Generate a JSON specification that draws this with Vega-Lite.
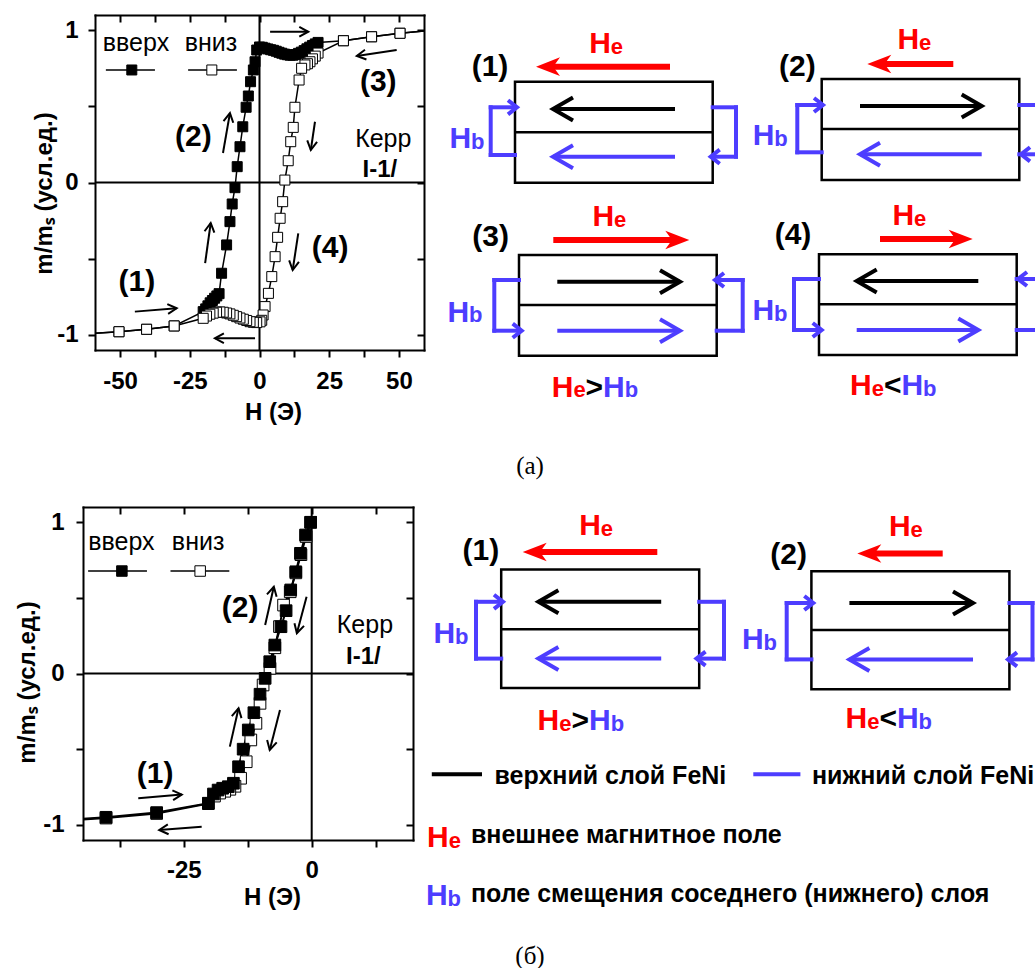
{
"$schema":"https://vega.github.io/schema/vega-lite/v6.json",
"width":1035,"height":968,"autosize":{"type":"none"},"padding":0,
"config":{"view":{"stroke":null},"font":"Liberation Sans",
 "axis":{"grid":false,"domainColor":"black","domainWidth":2,"domainCap":"square","tickColor":"black","tickWidth":2,"tickSize":7,"labelColor":"black","labelFont":"Liberation Sans","labelFontSize":24,"labelFontWeight":"bold","titleColor":"black","titleFont":"Liberation Sans","titleFontSize":24,"titleFontWeight":"bold","labelFlush":false,"labelOverlap":false}},
"datasets":{
 "A":[
  {"H":-59,"m":-0.99,"b":"up"},{"H":-50.4,"m":-0.98,"b":"up"},{"H":-40.5,"m":-0.964,"b":"up"},{"H":-30.6,"m":-0.942,"b":"up"},{"H":-20.2,"m":-0.848,"b":"up"},{"H":-19.3,"m":-0.83,"b":"up"},{"H":-18.5,"m":-0.81,"b":"up"},{"H":-17.7,"m":-0.79,"b":"up"},{"H":-16.9,"m":-0.775,"b":"up"},{"H":-16.1,"m":-0.76,"b":"up"},{"H":-15.3,"m":-0.745,"b":"up"},{"H":-14.5,"m":-0.73,"b":"up"},{"H":-13.6,"m":-0.596,"b":"up"},{"H":-11.8,"m":-0.41,"b":"up"},{"H":-10.6,"m":-0.257,"b":"up"},{"H":-9.8,"m":-0.141,"b":"up"},{"H":-8.8,"m":-0.034,"b":"up"},{"H":-8.0,"m":0.104,"b":"up"},{"H":-7.0,"m":0.235,"b":"up"},{"H":-6.0,"m":0.366,"b":"up"},{"H":-4.8,"m":0.494,"b":"up"},{"H":-4.0,"m":0.568,"b":"up"},{"H":-3.2,"m":0.662,"b":"up"},{"H":-2.2,"m":0.739,"b":"up"},{"H":-1.6,"m":0.793,"b":"up"},{"H":-1.0,"m":0.87,"b":"up"},{"H":0,"m":0.89,"b":"up"},{"H":1,"m":0.888,"b":"up"},{"H":2,"m":0.882,"b":"up"},{"H":3,"m":0.877,"b":"up"},{"H":4,"m":0.872,"b":"up"},{"H":5,"m":0.868,"b":"up"},{"H":6,"m":0.862,"b":"up"},{"H":7,"m":0.855,"b":"up"},{"H":8,"m":0.849,"b":"up"},{"H":9,"m":0.843,"b":"up"},{"H":10,"m":0.839,"b":"up"},{"H":11,"m":0.836,"b":"up"},{"H":12,"m":0.836,"b":"up"},{"H":13,"m":0.84,"b":"up"},{"H":14,"m":0.848,"b":"up"},{"H":15,"m":0.856,"b":"up"},{"H":16,"m":0.866,"b":"up"},{"H":17,"m":0.878,"b":"up"},{"H":18,"m":0.889,"b":"up"},{"H":19,"m":0.9,"b":"up"},{"H":20,"m":0.91,"b":"up"},{"H":21,"m":0.92,"b":"up"},{"H":30.1,"m":0.931,"b":"up"},{"H":40.2,"m":0.957,"b":"up"},{"H":50.4,"m":0.98,"b":"up"},{"H":59,"m":0.995,"b":"up"},
  {"H":59,"m":0.995,"b":"down"},{"H":50.4,"m":0.98,"b":"down"},{"H":40.2,"m":0.957,"b":"down"},{"H":30.1,"m":0.931,"b":"down"},{"H":21,"m":0.85,"b":"down"},{"H":20,"m":0.83,"b":"down"},{"H":19,"m":0.812,"b":"down"},{"H":18.1,"m":0.793,"b":"down"},{"H":17.2,"m":0.78,"b":"down"},{"H":16.3,"m":0.772,"b":"down"},{"H":15.1,"m":0.75,"b":"down"},{"H":14.2,"m":0.673,"b":"down"},{"H":12.7,"m":0.494,"b":"down"},{"H":12.1,"m":0.362,"b":"down"},{"H":11.2,"m":0.268,"b":"down"},{"H":10.3,"m":0.143,"b":"down"},{"H":9.1,"m":0.016,"b":"down"},{"H":8.3,"m":-0.126,"b":"down"},{"H":7.4,"m":-0.235,"b":"down"},{"H":6.5,"m":-0.36,"b":"down"},{"H":5.6,"m":-0.487,"b":"down"},{"H":4.4,"m":-0.618,"b":"down"},{"H":3.2,"m":-0.728,"b":"down"},{"H":2.0,"m":-0.815,"b":"down"},{"H":1.3,"m":-0.87,"b":"down"},{"H":0.8,"m":-0.905,"b":"down"},{"H":0.2,"m":-0.915,"b":"down"},{"H":-1.0,"m":-0.92,"b":"down"},{"H":-2.2,"m":-0.918,"b":"down"},{"H":-3.4,"m":-0.914,"b":"down"},{"H":-4.6,"m":-0.906,"b":"down"},{"H":-5.8,"m":-0.898,"b":"down"},{"H":-7.0,"m":-0.89,"b":"down"},{"H":-8.2,"m":-0.881,"b":"down"},{"H":-9.4,"m":-0.872,"b":"down"},{"H":-10.6,"m":-0.863,"b":"down"},{"H":-11.8,"m":-0.857,"b":"down"},{"H":-13.0,"m":-0.852,"b":"down"},{"H":-14.2,"m":-0.85,"b":"down"},{"H":-15.4,"m":-0.852,"b":"down"},{"H":-16.6,"m":-0.858,"b":"down"},{"H":-17.8,"m":-0.865,"b":"down"},{"H":-19.0,"m":-0.877,"b":"down"},{"H":-20.2,"m":-0.892,"b":"down"},{"H":-30.6,"m":-0.942,"b":"down"},{"H":-40.5,"m":-0.964,"b":"down"},{"H":-50.4,"m":-0.98,"b":"down"},{"H":-59,"m":-0.99,"b":"down"}],
 "B":[
  {"H":-0.2,"m":0.999,"b":"down"},{"H":-1.1,"m":0.905,"b":"down"},{"H":-2.1,"m":0.785,"b":"down"},{"H":-3.1,"m":0.665,"b":"down"},{"H":-4.2,"m":0.54,"b":"down"},{"H":-5.5,"m":0.452,"b":"down"},{"H":-6.3,"m":0.31,"b":"down"},{"H":-7.2,"m":0.17,"b":"down"},{"H":-8.15,"m":0.034,"b":"down"},{"H":-9.5,"m":-0.076,"b":"down"},{"H":-10.1,"m":-0.197,"b":"down"},{"H":-10.9,"m":-0.329,"b":"down"},{"H":-11.9,"m":-0.439,"b":"down"},{"H":-12.8,"m":-0.583,"b":"down"},{"H":-13.9,"m":-0.692,"b":"down"},{"H":-15.0,"m":-0.745,"b":"down"},{"H":-16.0,"m":-0.765,"b":"down"},{"H":-17.0,"m":-0.778,"b":"down"},{"H":-18.0,"m":-0.79,"b":"down"},{"H":-19.0,"m":-0.81,"b":"down"},{"H":-20.2,"m":-0.86,"b":"down"},{"H":-30.3,"m":-0.925,"b":"down"},{"H":-40.2,"m":-0.955,"b":"down"},{"H":-44.7,"m":-0.965,"b":"down"},
  {"H":-44.7,"m":-0.96,"b":"up"},{"H":-40.2,"m":-0.95,"b":"up"},{"H":-30.3,"m":-0.919,"b":"up"},{"H":-20.2,"m":-0.857,"b":"up"},{"H":-19.2,"m":-0.796,"b":"up"},{"H":-18.3,"m":-0.77,"b":"up"},{"H":-17.4,"m":-0.758,"b":"up"},{"H":-16.3,"m":-0.748,"b":"up"},{"H":-15.3,"m":-0.725,"b":"up"},{"H":-14.3,"m":-0.616,"b":"up"},{"H":-13.4,"m":-0.5,"b":"up"},{"H":-12.4,"m":-0.373,"b":"up"},{"H":-11.3,"m":-0.259,"b":"up"},{"H":-10.1,"m":-0.137,"b":"up"},{"H":-9.1,"m":-0.032,"b":"up"},{"H":-8.2,"m":0.078,"b":"up"},{"H":-7.2,"m":0.188,"b":"up"},{"H":-6.0,"m":0.309,"b":"up"},{"H":-5.0,"m":0.415,"b":"up"},{"H":-4.1,"m":0.552,"b":"up"},{"H":-3.1,"m":0.672,"b":"up"},{"H":-2.2,"m":0.794,"b":"up"},{"H":-1.2,"m":0.915,"b":"up"},{"H":-0.2,"m":0.999,"b":"up"}],
 "zeroA":[{"H":0,"m":-1.1,"H2":0,"m2":1.1},{"H":-59,"m":0,"H2":59,"m2":0}],
 "zeroB":[{"H":0,"m":-1.1,"H2":0,"m2":1.1},{"H":-44.7,"m":0,"H2":19.8,"m2":0}],
 "labA":[{"H":-44.0,"m":-0.651,"t":"(1)"},{"H":-23.7,"m":0.30,"t":"(2)"},{"H":42.6,"m":0.662,"t":"(3)"},{"H":25.3,"m":-0.432,"t":"(4)"}],
 "txtA":[{"H":44.4,"m":0.285,"t":"Керр"},{"H":-44.3,"m":0.918,"t":"вверх"},{"H":-17.4,"m":0.918,"t":"вниз"}],
 "boldA":[{"H":43.2,"m":0.085,"t":"I-1/"}],
 "arrA":[{"H":-29.7,"m":-0.826,"H2":-44.7,"m2":-0.848,"a":-4.7},{"H":-16.0,"m":-1.023,"H2":-1.6,"m2":-1.023,"a":180},{"H":-10.6,"m":0.456,"H2":-13.1,"m2":0.194,"a":-80},{"H":-17.5,"m":-0.266,"H2":-19.5,"m2":-0.529,"a":-82},{"H":17.5,"m":0.99,"H2":3.8,"m2":0.99,"a":0},{"H":34.9,"m":0.831,"H2":49.2,"m2":0.87,"a":171.5},{"H":18.4,"m":0.213,"H2":19.9,"m2":0.399,"a":98.6},{"H":11.9,"m":-0.575,"H2":13.9,"m2":-0.334,"a":98.7}],
 "legLinesA":[{"H":-55.1,"H2":-37.5,"m":0.739},{"H":-25.6,"H2":-8.1,"m":0.739}],
 "legSqA":[{"H":-45.8,"m":0.739,"b":"up"},{"H":-17.1,"m":0.739,"b":"down"}],
 "labB":[{"H":-30.6,"m":-0.664,"t":"(1)"},{"H":-14.0,"m":0.433,"t":"(2)"}],
 "txtB":[{"H":10.4,"m":0.32,"t":"Керр"},{"H":-37.2,"m":0.871,"t":"вверх"},{"H":-22.2,"m":0.871,"t":"вниз"}],
 "boldB":[{"H":10.1,"m":0.111,"t":"I-1/"}],
 "arrB":[{"H":-7.4,"m":0.573,"H2":-9.1,"m2":0.32,"a":-76.8},{"H":-2.9,"m":0.266,"H2":-1.0,"m2":0.507,"a":105.3},{"H":-14.3,"m":-0.23,"H2":-16.0,"m2":-0.483,"a":-77.8},{"H":-8.2,"m":-0.505,"H2":-6.2,"m2":-0.241,"a":104},{"H":-25.4,"m":-0.80,"H2":-33.9,"m2":-0.824,"a":-4.3},{"H":-29.8,"m":-1.034,"H2":-21.5,"m2":-1.012,"a":175.5}],
 "legLinesB":[{"H":-43.7,"H2":-32.2,"m":0.677},{"H":-27.6,"H2":-16.1,"m":0.677}],
 "legSqB":[{"H":-37.1,"m":0.677,"b":"up"},{"H":-21.8,"m":0.677,"b":"down"}],
 "boxes":[{"x":515,"y":81.7,"x2":712.7,"y2":182.7},{"x":821.7,"y":79,"x2":1019.3,"y2":180},{"x":519,"y":255,"x2":716.7,"y2":355.7},{"x":819,"y":254.3,"x2":1016.7,"y2":355},{"x":501.2,"y":569.6,"x2":699.2,"y2":688},{"x":811.4,"y":571.2,"x2":1009.4,"y2":689.2}],
 "dividers":[{"x":515,"x2":712.7,"y":132.3},{"x":821.7,"x2":1019.3,"y":129},{"x":519,"x2":716.7,"y":305},{"x":819,"x2":1016.7,"y":304.3},{"x":501.2,"x2":699.2,"y":629.2},{"x":811.4,"x2":1009.4,"y":630}],
 "magArrows":[
  {"x":553,"y":109,"x2":675,"y2":109,"a":180,"kind":"upper"},{"x":553,"y":156.7,"x2":675,"y2":156.7,"a":180,"kind":"lower"},
  {"x":981.7,"y":106,"x2":860,"y2":106,"a":0,"kind":"upper"},{"x":860,"y":154.3,"x2":981.7,"y2":154.3,"a":180,"kind":"lower"},
  {"x":680,"y":281.7,"x2":557.3,"y2":281.7,"a":0,"kind":"upper"},{"x":680,"y":330.7,"x2":557.3,"y2":330.7,"a":0,"kind":"lower"},
  {"x":856.7,"y":281,"x2":978.3,"y2":281,"a":180,"kind":"upper"},{"x":978.3,"y":330,"x2":856.7,"y2":330,"a":0,"kind":"lower"},
  {"x":538.4,"y":601.8,"x2":661.2,"y2":601.8,"a":180,"kind":"upper"},{"x":538.4,"y":658.6,"x2":661.2,"y2":658.6,"a":180,"kind":"lower"},
  {"x":973,"y":603,"x2":849.4,"y2":603,"a":0,"kind":"upper"},{"x":849.4,"y":659.4,"x2":973,"y2":659.4,"a":180,"kind":"lower"}],
 "brackets":[
  {"x":515,"y":155,"x2":490.7,"y2":155},{"x":490.7,"y":155,"x2":490.7,"y2":107.3},{"x":490.7,"y":107.3,"x2":515,"y2":107.3},
  {"x":712.7,"y":107.3,"x2":736,"y2":107.3},{"x":736,"y":107.3,"x2":736,"y2":156.7},{"x":736,"y":156.7,"x2":712.7,"y2":156.7},
  {"x":821.7,"y":152.3,"x2":797.3,"y2":152.3},{"x":797.3,"y":152.3,"x2":797.3,"y2":105},{"x":797.3,"y":105,"x2":821.7,"y2":105},
  {"x":1019.3,"y":105,"x2":1042,"y2":105},{"x":1042,"y":105,"x2":1042,"y2":154.3},{"x":1042,"y":154.3,"x2":1019.3,"y2":154.3},
  {"x":519,"y":280,"x2":494.3,"y2":280},{"x":494.3,"y":280,"x2":494.3,"y2":330.7},{"x":494.3,"y":330.7,"x2":519,"y2":330.7},
  {"x":716.7,"y":330.7,"x2":742.7,"y2":330.7},{"x":742.7,"y":330.7,"x2":742.7,"y2":280},{"x":742.7,"y":280,"x2":716.7,"y2":280},
  {"x":819,"y":279,"x2":794,"y2":279},{"x":794,"y":279,"x2":794,"y2":330},{"x":794,"y":330,"x2":819,"y2":330},
  {"x":1016.7,"y":330,"x2":1040,"y2":330},{"x":1040,"y":330,"x2":1040,"y2":279},{"x":1040,"y":279,"x2":1016.7,"y2":279},
  {"x":501.2,"y":658.6,"x2":476,"y2":658.6},{"x":476,"y":658.6,"x2":476,"y2":601.8},{"x":476,"y":601.8,"x2":501.2,"y2":601.8},
  {"x":699.2,"y":601.8,"x2":724,"y2":601.8},{"x":724,"y":601.8,"x2":724,"y2":658.6},{"x":724,"y":658.6,"x2":699.2,"y2":658.6},
  {"x":811.4,"y":659.4,"x2":786.7,"y2":659.4},{"x":786.7,"y":659.4,"x2":786.7,"y2":603},{"x":786.7,"y":603,"x2":811.4,"y2":603},
  {"x":1009.4,"y":603,"x2":1032.5,"y2":603},{"x":1032.5,"y":603,"x2":1032.5,"y2":659.4},{"x":1032.5,"y":659.4,"x2":1009.4,"y2":659.4}],
 "bracketHeads":[{"x":517,"y":107.3,"a":0},{"x":710.7,"y":156.7,"a":180},{"x":823,"y":105,"a":0},{"x":1021,"y":154.3,"a":180},{"x":521.7,"y":330.7,"a":0},{"x":715,"y":280,"a":180},{"x":821.7,"y":330,"a":0},{"x":1018,"y":279,"a":180},{"x":503,"y":601.8,"a":0},{"x":696.5,"y":658.6,"a":180},{"x":813.3,"y":603,"a":0},{"x":1008,"y":659.4,"a":180}],
 "fieldShafts":[{"x":670,"x2":551,"y":66.7},{"x":953.3,"x2":882.3,"y":64},{"x":553.3,"x2":674.3,"y":240},{"x":880,"x2":957.7,"y":239},{"x":657.3,"x2":537.7,"y":552},{"x":942.7,"x2":872.3,"y":553.5}],
 "fieldHeads":[{"x":536,"y":66.7,"a":180},{"x":867.3,"y":64,"a":180},{"x":689.3,"y":240,"a":0},{"x":972.7,"y":239,"a":0},{"x":522.7,"y":552,"a":180},{"x":857.3,"y":553.5,"a":180}],
 "legendLines":[{"x":431.8,"x2":482,"y":774.3,"kind":"upper"},{"x":753.3,"x2":800.4,"y":774.3,"kind":"lower"}],
 "panelLabels":[{"x":490,"y":66.7,"t":"(1)"},{"x":797.3,"y":66.7,"t":"(2)"},{"x":490.7,"y":236.7,"t":"(3)"},{"x":793,"y":235,"t":"(4)"},{"x":480.8,"y":550.8,"t":"(1)"},{"x":788.6,"y":554.7,"t":"(2)"}],
 "bigText":[
  {"x":589.2,"y":53.3,"t":"H","kind":"field"},{"x":897.5,"y":49.3,"t":"H","kind":"field"},{"x":592.5,"y":226,"t":"H","kind":"field"},{"x":892.5,"y":225,"t":"H","kind":"field"},{"x":579.3,"y":535.1,"t":"H","kind":"field"},{"x":889.1,"y":535.9,"t":"H","kind":"field"},
  {"x":449.5,"y":148.3,"t":"H","kind":"lower"},{"x":752.8,"y":145,"t":"H","kind":"lower"},{"x":447.5,"y":321.7,"t":"H","kind":"lower"},{"x":752.5,"y":320,"t":"H","kind":"lower"},{"x":433.4,"y":643,"t":"H","kind":"lower"},{"x":742,"y":648.8,"t":"H","kind":"lower"},
  {"x":551.7,"y":396.7,"t":"H","kind":"field"},{"x":585.6,"y":396.7,"t":">","kind":"plain"},{"x":603.1,"y":396.7,"t":"H","kind":"lower"},
  {"x":850,"y":395,"t":"H","kind":"field"},{"x":883.9,"y":395,"t":"<","kind":"plain"},{"x":901.4,"y":395,"t":"H","kind":"lower"},
  {"x":537.6,"y":730,"t":"H","kind":"field"},{"x":571.5,"y":730,"t":">","kind":"plain"},{"x":589,"y":730,"t":"H","kind":"lower"},
  {"x":845.5,"y":728.4,"t":"H","kind":"field"},{"x":879.4,"y":728.4,"t":"<","kind":"plain"},{"x":896.9,"y":728.4,"t":"H","kind":"lower"},
  {"x":427,"y":847,"t":"H","kind":"field"},{"x":425.9,"y":904.9,"t":"H","kind":"lower"}],
 "subText":[
  {"x":610.7,"y":54,"t":"e","kind":"field"},{"x":919,"y":50,"t":"e","kind":"field"},{"x":614,"y":226.7,"t":"e","kind":"field"},{"x":914,"y":225.7,"t":"e","kind":"field"},{"x":600.8,"y":535.8,"t":"e","kind":"field"},{"x":910.6,"y":536.6,"t":"e","kind":"field"},
  {"x":471,"y":149,"t":"b","kind":"lower"},{"x":774.3,"y":145.7,"t":"b","kind":"lower"},{"x":469,"y":322.4,"t":"b","kind":"lower"},{"x":774,"y":320.7,"t":"b","kind":"lower"},{"x":454.9,"y":643.7,"t":"b","kind":"lower"},{"x":763.5,"y":649.5,"t":"b","kind":"lower"},
  {"x":573.4,"y":397.4,"t":"e","kind":"field"},{"x":624.8,"y":397.4,"t":"b","kind":"lower"},{"x":871.7,"y":395.7,"t":"e","kind":"field"},{"x":923.1,"y":395.7,"t":"b","kind":"lower"},
  {"x":559.3,"y":730.7,"t":"e","kind":"field"},{"x":610.7,"y":730.7,"t":"b","kind":"lower"},{"x":867.2,"y":729.1,"t":"e","kind":"field"},{"x":918.6,"y":729.1,"t":"b","kind":"lower"},
  {"x":448.7,"y":847.7,"t":"e","kind":"field"},{"x":447.6,"y":905.6,"t":"b","kind":"lower"}],
 "legendText":[{"x":494.5,"y":784,"t":"верхний слой FeNi"},{"x":812,"y":784,"t":"нижний слой FeNi"},{"x":471,"y":843,"t":"внешнее магнитное поле"},{"x":471,"y":902,"t":"поле смещения соседнего (нижнего) слоя"}],
 "captions":[{"x":530,"y":474,"t":"(а)"},{"x":530,"y":964,"t":"(б)"}]
},
"layer":[
 {"encoding":{
   "x":{"field":"H","type":"quantitative","scale":{"domain":[-59,59],"range":[95,424],"nice":false,"zero":false},"axis":{"orient":"bottom","offset":-618,"values":[-50,-37.5,-25,-12.5,0,12.5,25,37.5,50],"labelExpr":"datum.value % 25 === 0 ? toString(datum.value) : ''","labelPadding":12,"title":"H (Э)","titleX":273,"titleY":69,"titleBaseline":"alphabetic","titleAlign":"center"}},
   "y":{"field":"m","type":"quantitative","scale":{"domain":[-1.1,1.1],"range":[350,15],"nice":false,"zero":false},"axis":{"orient":"left","offset":-95,"values":[-1,-0.5,0,0.5,1],"labelExpr":"abs(datum.value) === 0.5 ? '' : toString(datum.value)","labelPadding":10,"title":"m/mₛ (усл.ед.)","titleX":-51,"titleY":193,"titleAngle":270,"titleBaseline":"middle","titleAlign":"center"}}},
  "layer":[
   {"data":{"name":"zeroA"},"mark":{"type":"rule","color":"black","strokeWidth":2},"encoding":{"x2":{"field":"H2"},"y2":{"field":"m2"}}},
   {"data":{"name":"A"},"mark":{"type":"line","color":"black","strokeWidth":1.5},"encoding":{"detail":{"field":"b"},"order":{"value":null}}},
   {"data":{"name":"A"},"transform":[{"filter":"abs(datum.H) < 58"}],"mark":{"type":"point","shape":"square","size":100,"filled":true,"opacity":1,"stroke":"black","strokeWidth":1},"encoding":{"fill":{"field":"b","type":"nominal","scale":{"domain":["up","down"],"range":["black","white"]},"legend":null}}},
   {"data":{"name":"legLinesA"},"mark":{"type":"rule","color":"black","strokeWidth":1.5},"encoding":{"x2":{"field":"H2"}}},
   {"data":{"name":"legSqA"},"mark":{"type":"point","shape":"square","size":100,"filled":true,"opacity":1,"stroke":"black","strokeWidth":1},"encoding":{"fill":{"field":"b","type":"nominal","legend":null}}},
   {"data":{"name":"labA"},"mark":{"type":"text","fontSize":30,"fontWeight":"bold","align":"center","baseline":"middle","color":"black"},"encoding":{"text":{"field":"t"}}},
   {"data":{"name":"txtA"},"mark":{"type":"text","fontSize":25,"align":"center","baseline":"middle","color":"black"},"encoding":{"text":{"field":"t"}}},
   {"data":{"name":"boldA"},"mark":{"type":"text","fontSize":24,"fontWeight":"bold","align":"center","baseline":"middle","color":"black"},"encoding":{"text":{"field":"t"}}},
   {"data":{"name":"arrA"},"mark":{"type":"rule","color":"black","strokeWidth":2},"encoding":{"x2":{"field":"H2"},"y2":{"field":"m2"}}},
   {"data":{"name":"arrA"},"mark":{"type":"point","shape":"M -1 -0.55 L 0 0 L -1 0.55","size":324,"filled":false,"color":"black","strokeWidth":2,"opacity":1},"encoding":{"angle":{"field":"a","type":"quantitative","scale":null}}}
  ]},
 {"data":{"name":"zeroA"},"mark":{"type":"point","opacity":0},
  "encoding":{"x":{"field":"H","type":"quantitative","scale":{"domain":[-59,59],"range":[95,424],"nice":false,"zero":false},"axis":{"orient":"top","offset":-15,"values":[-50,-37.5,-25,-12.5,0,12.5,25,37.5,50],"labels":false,"tickSize":-7,"title":null}}}},
 {"data":{"name":"zeroA"},"mark":{"type":"point","opacity":0},
  "encoding":{"y":{"field":"m","type":"quantitative","scale":{"domain":[-1.1,1.1],"range":[350,15],"nice":false,"zero":false},"axis":{"orient":"right","offset":-611,"values":[-1,-0.5,0,0.5,1],"labels":false,"tickSize":-7,"title":null}}}},
 {"encoding":{
   "x":{"field":"H","type":"quantitative","scale":{"domain":[-44.7,19.8],"range":[83,413],"nice":false,"zero":false},"axis":{"orient":"bottom","offset":-128,"values":[-37.5,-25,-12.5,0,12.5],"labelExpr":"datum.value % 25 === 0 ? toString(datum.value) : ''","labelPadding":11,"title":"H (Э)","titleX":272,"titleY":64,"titleBaseline":"alphabetic","titleAlign":"center"}},
   "y":{"field":"m","type":"quantitative","scale":{"domain":[-1.1,1.1],"range":[840,507],"nice":false,"zero":false},"axis":{"orient":"left","offset":-83,"values":[-1,-0.5,0,0.5,1],"labelExpr":"abs(datum.value) === 0.5 ? '' : toString(datum.value)","labelPadding":12,"title":"m/mₛ (усл.ед.)","titleX":-56,"titleY":682,"titleAngle":270,"titleBaseline":"middle","titleAlign":"center"}}},
  "layer":[
   {"data":{"name":"zeroB"},"mark":{"type":"rule","color":"black","strokeWidth":2},"encoding":{"x2":{"field":"H2"},"y2":{"field":"m2"}}},
   {"data":{"name":"B"},"mark":{"type":"line","color":"black","strokeWidth":2},"encoding":{"detail":{"field":"b"},"order":{"value":null}}},
   {"data":{"name":"B"},"transform":[{"filter":"datum.H > -44"}],"mark":{"type":"point","shape":"square","size":136,"filled":true,"opacity":1,"stroke":"black","strokeWidth":1},"encoding":{"fill":{"field":"b","type":"nominal","scale":{"domain":["up","down"],"range":["black","white"]},"legend":null}}},
   {"data":{"name":"legLinesB"},"mark":{"type":"rule","color":"black","strokeWidth":1.5},"encoding":{"x2":{"field":"H2"}}},
   {"data":{"name":"legSqB"},"mark":{"type":"point","shape":"square","size":110,"filled":true,"opacity":1,"stroke":"black","strokeWidth":1},"encoding":{"fill":{"field":"b","type":"nominal","legend":null}}},
   {"data":{"name":"labB"},"mark":{"type":"text","fontSize":30,"fontWeight":"bold","align":"center","baseline":"middle","color":"black"},"encoding":{"text":{"field":"t"}}},
   {"data":{"name":"txtB"},"mark":{"type":"text","fontSize":25,"align":"center","baseline":"middle","color":"black"},"encoding":{"text":{"field":"t"}}},
   {"data":{"name":"boldB"},"mark":{"type":"text","fontSize":24,"fontWeight":"bold","align":"center","baseline":"middle","color":"black"},"encoding":{"text":{"field":"t"}}},
   {"data":{"name":"arrB"},"mark":{"type":"rule","color":"black","strokeWidth":2},"encoding":{"x2":{"field":"H2"},"y2":{"field":"m2"}}},
   {"data":{"name":"arrB"},"mark":{"type":"point","shape":"M -1 -0.55 L 0 0 L -1 0.55","size":324,"filled":false,"color":"black","strokeWidth":2,"opacity":1},"encoding":{"angle":{"field":"a","type":"quantitative","scale":null}}}
  ]},
 {"data":{"name":"zeroB"},"mark":{"type":"point","opacity":0},
  "encoding":{"x":{"field":"H","type":"quantitative","scale":{"domain":[-44.7,19.8],"range":[83,413],"nice":false,"zero":false},"axis":{"orient":"top","offset":-507,"values":[-37.5,-25,-12.5,0,12.5],"labels":false,"tickSize":-7,"title":null}}}},
 {"data":{"name":"zeroB"},"mark":{"type":"point","opacity":0},
  "encoding":{"y":{"field":"m","type":"quantitative","scale":{"domain":[-1.1,1.1],"range":[840,507],"nice":false,"zero":false},"axis":{"orient":"right","offset":-622,"values":[-1,-0.5,0,0.5,1],"labels":false,"tickSize":-7,"title":null}}}},
 {"encoding":{
   "x":{"field":"x","type":"quantitative","scale":{"domain":[0,1035],"range":[0,1035],"nice":false,"zero":false},"axis":null},
   "y":{"field":"y","type":"quantitative","scale":{"domain":[0,968],"range":[0,968],"nice":false,"zero":false},"axis":null}},
  "layer":[
   {"data":{"name":"boxes"},"mark":{"type":"rect","filled":false,"color":"black","strokeWidth":2.5},"encoding":{"x2":{"field":"x2"},"y2":{"field":"y2"}}},
   {"data":{"name":"dividers"},"mark":{"type":"rule","color":"black","strokeWidth":2.5},"encoding":{"x2":{"field":"x2"}}},
   {"data":{"name":"magArrows"},"mark":{"type":"rule","strokeWidth":4},"encoding":{"x2":{"field":"x2"},"y2":{"field":"y2"},"color":{"field":"kind","type":"nominal","scale":{"domain":["upper","lower","field","plain"],"range":["#000000","#4d3dff","#ff0000","#000000"]},"legend":null}}},
   {"data":{"name":"magArrows"},"mark":{"type":"point","shape":"M -1 -0.575 L 0 0 L -1 0.575","size":1600,"filled":false,"strokeWidth":4,"opacity":1,"strokeJoin":"miter"},"encoding":{"angle":{"field":"a","type":"quantitative","scale":null},"color":{"field":"kind","type":"nominal","legend":null}}},
   {"data":{"name":"brackets"},"mark":{"type":"rule","color":"#4d3dff","strokeWidth":4,"strokeCap":"square"},"encoding":{"x2":{"field":"x2"},"y2":{"field":"y2"}}},
   {"data":{"name":"bracketHeads"},"mark":{"type":"point","shape":"M -1 -0.78 L 0 0 L -1 0.78","size":324,"filled":false,"color":"#4d3dff","strokeWidth":4,"opacity":1},"encoding":{"angle":{"field":"a","type":"quantitative","scale":null}}},
   {"data":{"name":"fieldShafts"},"mark":{"type":"rule","color":"#ff0000","strokeWidth":6},"encoding":{"x2":{"field":"x2"}}},
   {"data":{"name":"fieldHeads"},"mark":{"type":"point","shape":"M 0 0 L -1 -0.39 L -0.72 0 L -1 0.39 Z","size":2304,"filled":true,"color":"#ff0000","strokeWidth":0,"opacity":1},"encoding":{"angle":{"field":"a","type":"quantitative","scale":null}}},
   {"data":{"name":"legendLines"},"mark":{"type":"rule","strokeWidth":4},"encoding":{"x2":{"field":"x2"},"color":{"field":"kind","type":"nominal","legend":null}}},
   {"data":{"name":"panelLabels"},"mark":{"type":"text","fontSize":30,"fontWeight":"bold","align":"center","baseline":"middle","color":"black"},"encoding":{"text":{"field":"t"}}},
   {"data":{"name":"bigText"},"mark":{"type":"text","fontSize":30,"fontWeight":"bold","align":"left","baseline":"alphabetic"},"encoding":{"text":{"field":"t"},"color":{"field":"kind","type":"nominal","legend":null}}},
   {"data":{"name":"subText"},"mark":{"type":"text","fontSize":22,"fontWeight":"bold","align":"left","baseline":"alphabetic"},"encoding":{"text":{"field":"t"},"color":{"field":"kind","type":"nominal","legend":null}}},
   {"data":{"name":"legendText"},"mark":{"type":"text","fontSize":25,"fontWeight":"bold","align":"left","baseline":"alphabetic","color":"black"},"encoding":{"text":{"field":"t"}}},
   {"data":{"name":"captions"},"mark":{"type":"text","font":"Liberation Serif","fontSize":25,"align":"center","baseline":"alphabetic","color":"black"},"encoding":{"text":{"field":"t"}}}
  ]}
],
"resolve":{"scale":{"x":"independent","y":"independent","fill":"independent","color":"independent"},"axis":{"x":"independent","y":"independent"}}
}
